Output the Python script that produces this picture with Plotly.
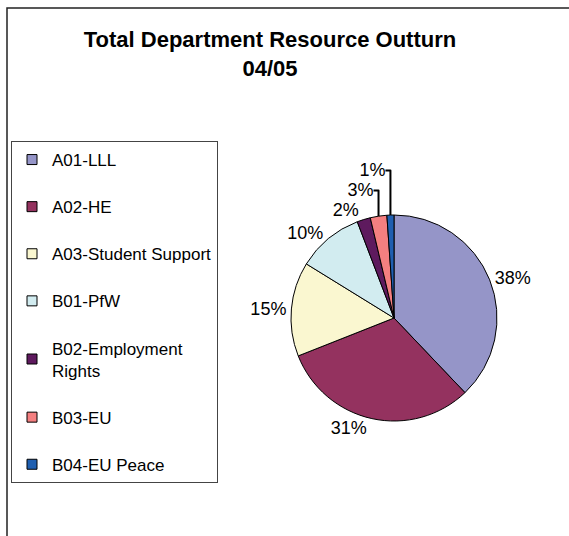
import plotly.graph_objects as go

categories = ["A01-LLL", "A02-HE", "A03-Student Support", "B01-PfW",
              "B02-Employment<br>Rights", "B03-EU", "B04-EU Peace"]
shares = [37.9, 31.1, 14.8, 10.4, 2.1, 2.6, 1.1]
colors = ["#9595C8", "#94325F", "#FAF7D0", "#D2ECF0", "#5E1A5E", "#F47F80", "#1F5FB0"]

FONT = "Liberation Sans, Arial, sans-serif"
W, H = 569, 536

fig = go.Figure()

# pie
cx, cy, r = 394, 318, 103
fig.add_trace(go.Pie(
    labels=categories, values=shares, sort=False, direction="clockwise",
    rotation=0, marker=dict(colors=colors, line=dict(color="black", width=1)),
    textinfo="percent", texttemplate="%{percent:.0%}", textposition="outside",
    textfont=dict(family=FONT, size=18, color="black"),
    showlegend=False, hoverinfo="label+percent",
    domain=dict(x=[(cx - r) / W, (cx + r) / W], y=[(H - cy - r) / H, (H - cy + r) / H]),
))

# legend entries (one per category)
for i, (cat, col) in enumerate(zip(categories, colors)):
    fig.add_trace(go.Scatter(
        x=[None], y=[None], mode="markers", name=cat, legendgroup=f"g{i}",
        marker=dict(symbol="square", size=10, color=col, line=dict(color="black", width=1)),
        showlegend=True,
    ))

fig.update_layout(
    width=W, height=H,
    margin=dict(l=0, r=0, t=0, b=0),
    paper_bgcolor="white", plot_bgcolor="white",
    font=dict(family=FONT, color="black"),
    title=dict(text="<b>Total Department Resource Outturn<br>04/05</b>",
               x=270 / W, xanchor="center", y=1 - 47 / H, yanchor="top",
               font=dict(family=FONT, size=22, color="black")),
    xaxis=dict(visible=False), yaxis=dict(visible=False),
    legend=dict(x=11 / W, y=1 - 141 / H, xanchor="left", yanchor="top",
                bgcolor="white", bordercolor="#444", borderwidth=1,
                font=dict(family=FONT, size=17, color="black"),
                tracegroupgap=22, itemwidth=30, traceorder="grouped"),
    shapes=[dict(type="rect", xref="paper", yref="paper",
                 x0=7 / W, x1=1.05, y0=-0.05, y1=1 - 8 / H,
                 line=dict(color="#222", width=1.5), fillcolor="rgba(0,0,0,0)")],
)

fig.write_html("out.html", config={"displayModeBar": False},
               post_script="document.body.style.margin='0px';")
